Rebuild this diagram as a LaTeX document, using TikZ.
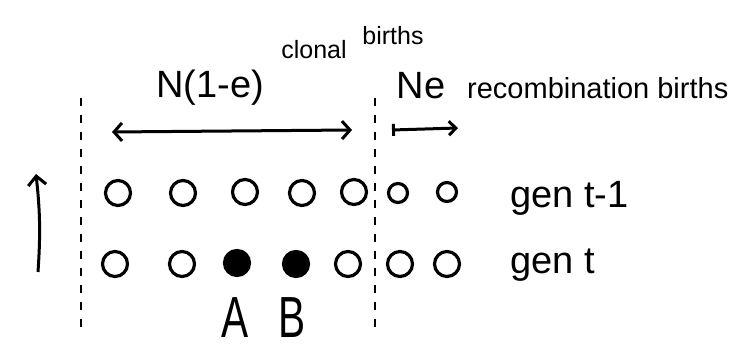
\documentclass[tikz,border=0pt]{standalone}
\usepackage{fontspec}
\setmainfont{Liberation Sans}
\usetikzlibrary{arrows.meta}

\begin{document}
\begin{tikzpicture}[x=1pt,y=-1pt]
% Stile nodi
\tikzstyle{ind} = [
    circle,
    draw,
    line width=3.2pt,
    minimum size=25pt,
    inner sep=0pt
]

\tikzstyle{small} = [
    ind,
    minimum size=19pt
]

\tikzstyle{hit} = [
    ind,
    fill=black
]

\tikzstyle{sep} = [
    line width=1.4pt,
    dash pattern=on 8pt off 9pt
]

\tikzstyle{freccia} = [
    line width=3pt,
    -{Straight Barb[length=9pt,width=18pt]}
]

\tikzstyle{testo} = [
    inner sep=0pt
]

\useasboundingbox (0,0) rectangle (740,352);

% Separatori
\coordinate (s1a) at (81,98);
\coordinate (s1b) at (81,334);
\coordinate (s2a) at (375,98);
\coordinate (s2b) at (375,330);
\draw[sep] (s1a) -- (s1b);
\draw[sep] (s2a) -- (s2b);

% Testi in alto
\node[testo] (nclon) at (210,88)
{\fontsize{38}{38}\selectfont N(1-e)};

\node[testo] (clon) at (314,50)
{\fontsize{25}{25}\selectfont clonal};

\node[testo] (clonb) at (393,36)
{\fontsize{25}{25}\selectfont births};

\node[testo] (nrec) at (421,86)
{\fontsize{38}{38}\selectfont Ne};

\node[testo, anchor=west] (rec) at (467,88)
{\fontsize{29}{29}\selectfont recombination births};

% Frecce
\coordinate (a1) at (112,132);
\coordinate (a2) at (352,130);
\draw[line width=3pt, {Straight Barb[length=8pt,width=18pt]}-{Straight Barb[length=8pt,width=18pt]}] (a1) -- (a2);

\coordinate (b1) at (392,130);
\coordinate (b2) at (458,128);
\draw[line width=3pt, {Bar[width=12pt]}-{Straight Barb[length=7pt,width=14pt]}] (b1) -- (b2);

\coordinate (up1) at (38,272);
\coordinate (up2) at (36,174);
\draw[freccia] (up1) to[bend right=5] (up2);

% Generazione t-1
\node[ind] (c11) at (118,193) {};
\node[ind] (c12) at (183,193) {};
\node[ind] (c13) at (245,192) {};
\node[ind] (c14) at (302,193) {};
\node[ind] (c15) at (354,192) {};
\node[small] (c16) at (398,193) {};
\node[small] (c17) at (447,192) {};

% Generazione t
\node[ind] (c21) at (115,264) {};
\node[ind] (c22) at (182,264) {};
\node[hit] (c23) at (237,263) {};
\node[hit] (c24) at (296,264) {};
\node[ind] (c25) at (348,264) {};
\node[ind] (c26) at (400,264) {};
\node[ind] (c27) at (447,264) {};

% Etichette
\node[testo, anchor=west] (gen1) at (510,198)
{\fontsize{38}{38}\selectfont gen t-1};

\node[testo, anchor=west] (gen0) at (510,265)
{\fontsize{38}{38}\selectfont gen t};

\node[testo, xscale=0.7, transform shape] (lA) at (235,318)
{\fontsize{58}{58}\selectfont A};

\node[testo, xscale=0.7, transform shape] (lB) at (292,318)
{\fontsize{58}{58}\selectfont B};

\end{tikzpicture}
\end{document}
